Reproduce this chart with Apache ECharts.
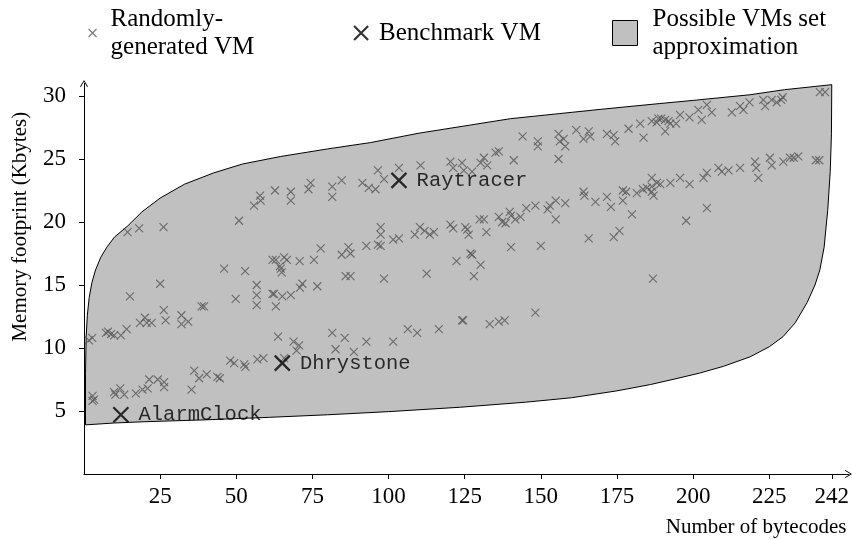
<!DOCTYPE html>
<html>
<head>
    <meta charset="UTF-8">
    <script src="https://cdn.jsdelivr.net/npm/echarts@6/dist/echarts.min.js"></script>
    <style>
        html, body { margin: 0; padding: 0; background: #fff; }
        #main { width: 852px; height: 540px; }
    </style>
</head>
<body>
<div id="main"></div>
<script type="text/javascript">
    // randomly generated VMs: [bytecodes, footprint]
    var randomVMs = [
        // upper band
        [14.3,19.2],[18.1,19.5],[26.1,19.6],[50.9,20.1],[55.8,21.3],[58,21.7],[57.8,22.1],[62.7,22.5],
        [67.9,22.4],[67.9,21.7],[74.4,23.1],[73.7,22.6],[81.5,22.8],[81.5,22],[84.6,23.3],[91.4,23.1],
        [93.5,22.7],[95.7,22.6],[96.5,24.1],[98.5,23.4],[103.4,24.3],[110.5,24.5],[120.3,24.8],[124.1,24.7],
        [121.2,24.3],[124.7,24.1],[127.4,24],[131.3,25.1],[130.2,24.7],[132.4,24.5],[135.1,25.5],[136.2,25.6],
        [141.1,24.9],[144,26.8],[149,26.4],[149,26],[155.8,27],[156.2,26.4],[157.5,26.6],[158,26],
        [155.8,25],[161.6,27.3],[164,26.6],[165.7,27.2],[166.2,26.8],[171.7,27],[173.9,26.9],[174.4,26.4],
        [178.8,27.4],[182.6,27.8],[183.7,26.7],[186.4,28],[188.6,28.2],[188,27.9],[189.5,28.2],[190.8,28.1],
        [191.9,28],[192.5,27.8],[190.8,27.2],[194.4,27.8],[195.7,28.5],[198.8,28.3],[201.7,28.9],[202.8,28.1],
        [204.5,29.3],[206.1,28.7],[212.7,28.7],[215.4,29.2],[216.5,28.9],[218.5,29.5],[223,29.7],[223.6,29.2],
        [225.8,29.7],[227.4,29.5],[228.9,29.7],[229.4,29.9],[241.6,30.3],[243.3,30.3],
        // middle band
        [1.6,10.6],[2.7,10.8],[7.2,11.2],[7.9,11.3],[8.9,11.1],[9.9,11],[12.1,11],[14,11.5],
        [18.4,12],[20,12.4],[20.6,12],[22.2,12],[26.2,13],[26.8,12.2],[32,12.6],[32,11.9],
        [34.2,12.1],[38.6,13.3],[39.4,13.3],[15.1,14.1],[25,15.1],[49.8,13.9],[56.7,15],[56.7,14.2],
        [56.7,13.4],[61.9,14.3],[63,13.3],[46,16.3],[52.9,16.1],[61.9,17],[64.3,16.5],[63,17],
        [65.7,17.2],[66.6,17],[64.6,16.3],[64.9,16],[70.8,16.9],[75.5,17],[77.7,17.9],[84.6,17.4],
        [86.8,18],[87.5,17.5],[92.7,18.1],[96.5,18.2],[97.4,19.6],[97.4,19],[97.4,18.1],[101.5,18.6],
        [103.4,18.7],[108.6,19],[110.3,19.6],[111.8,19.3],[113.5,19],[114.9,19.2],[120.3,19.8],[121.2,19.5],
        [125.8,19.4],[122.3,16.9],[126.9,17.5],[112.5,15.9],[85.9,15.7],[87.5,15.7],[98.5,15.5],[62.4,14.3],
        [65.1,14.1],[67.9,14.2],[70.9,14.8],[71.7,15.1],[76.6,14.9],
        [125.2,19.6],[126.3,19],[129.9,20.2],[131.3,20.2],[132.1,19.2],[136.2,20.4],[137.3,20],[138.4,19.9],
        [139.8,20.8],[140.2,20.5],[141.6,20.2],[143.3,20.4],[145.2,21.1],[148.2,21.3],[152.2,21],[152.9,21.3],
        [154.9,21.7],[158,21.5],[154.9,20.2],[140.2,18],[150,18.1],[164,22.4],[164.3,22.1],[167.9,21.6],
        [171.7,22],[173,21.2],[176.9,22.5],[178,22.4],[176.9,21.7],[179.9,20.6],[181.5,22.3],[183.5,22.6],
        [184.8,22.7],[186.4,23.5],[186.4,22.4],[188.1,23.1],[165.7,18.7],[173.9,18.8],[175.8,19.3],[127.4,17.4],
        [130.2,16.6],[128,15.7],[186.8,15.5],
        [186.4,22.8],[187,22.1],[189.2,23],[192.5,23.1],[195.7,23.5],[198.8,23],[203.4,23.5],[204.5,23.9],
        [208.3,24.3],[209.4,24],[211.6,24.1],[215.4,24.3],[220.3,24.8],[220.7,24.3],[221.4,23.5],[225.2,25.1],
        [225.8,24.5],[229.6,24.8],[231.8,25.1],[233,25.1],[234.5,25.2],[240.3,24.9],[241.4,24.9],[204.5,21.1],
        [197.7,20.1],
        // lower band
        [2.8,6.2],[2.8,5.8],[3.3,5.9],[9.9,6.5],[10.3,6.3],[11.9,6.8],[13.2,6.3],[17,6.4],
        [19.2,6.7],[20.9,6.8],[21.4,7.5],[24.2,7.5],[26.3,7.3],[26.3,6.9],[36.2,8.2],[37.8,7.6],
        [40.3,7.9],[35.3,6.7],[43.8,7.7],[44.6,7.6],[48,9],[49.3,8.8],[52.6,8.7],[53,8.5],
        [56.9,9.1],[58.9,9.2],[63.7,10.9],[68.8,10.5],[70.6,10.2],[69.8,9.8],[81.5,11.2],[85.6,10.8],
        [82.6,9.9],[88.6,9.7],[92.7,10.5],[101.5,10.5],[106.3,11.5],[109.4,11.2],[116.5,11.5],[124.1,12.2],
        [124.5,12.2],[133.2,11.9],[136.2,12.1],[138.1,12.2],[148.2,12.8],[65.7,9.2]
    ];

    var benchNames = ['AlarmClock', 'Dhrystone', 'Raytracer'];
    var benchX = [12.1, 65.1, 103.4];
    var benchY = [4.7, 8.8, 23.3];

    // outline of the possible VMs set (lower edge left->right, upper edge right->left)
    var setLower = [
        [0.5,3.9],[10,4.05],[20,4.15],[40,4.3],[61,4.5],[80,4.7],[100,4.95],[123.6,5.3],
        [145,5.7],[160,6.05],[175,6.6],[186,7.1],[195,7.6],[202,8.0],[210,8.55],[218.7,9.3],
        [225,10.1],[229.5,10.9],[233.5,12],[237.4,13.6],[240,15],[241.6,16.2],[243,18],[244.2,21],
        [245,24],[245.4,27],[245.5,30.9]
    ];
    var setUpper = [
        [245.5,30.9],[230,30.5],[218.7,30.1],[200,29.65],[189,29.4],[170,28.95],[156,28.6],[140,28.2],
        [127,27.7],[110,27.05],[94,26.3],[80,25.8],[64.6,25.2],[52,24.6],[42.6,23.9],[33,23.0],
        [25,21.9],[19,20.8],[14.4,19.7],[10,18.8],[7.5,18.0],[5.5,17.2],[3.8,16.2],[2.6,15.2],
        [1.7,14.0],[1.1,12.6],[0.7,10.9],[0.5,8]
    ];

    var xTicks = [25, 50, 75, 100, 125, 150, 175, 200, 225, 245.5];
    var xTickLabels = ['25', '50', '75', '100', '125', '150', '175', '200', '225', '242'];
    var yTicks = [5, 10, 15, 20, 25, 30];

    var setOutline = setLower.concat(setUpper);
    var benchData = benchX.map(function (x, i) { return [x, benchY[i], benchNames[i]]; });

    var serif = 'Liberation Serif';
    var crossPath = 'path://M0,0L10,10M10,0L0,10';
    var arrowPath = 'path://M0,10L6,0L12,10L10.8,10.6L6,2.6L1.2,10.6Z';

    var nameRandom = 'Randomly-\ngenerated VM';
    var nameBench = 'Benchmark VM';
    var nameSet = 'Possible VMs set\napproximation';

    var legendText = {fontFamily: serif, fontSize: 25, lineHeight: 28, color: '#000'};

    var myChart = echarts.init(document.getElementById('main'));
    var option = {
        animation: false,
        grid: {left: 84, right: 3, top: 83.4, bottom: 66},
        legend: [
            {
                left: 88, top: 5, padding: 0, selectedMode: false,
                itemWidth: 8, itemHeight: 8,
                data: [{name: nameRandom, icon: crossPath}],
                itemStyle: {color: 'rgba(0,0,0,0)', borderColor: '#555', borderWidth: 1.1},
                textStyle: Object.assign({padding: [0, 0, 0, 9]}, legendText)
            },
            {
                left: 353, top: 19, padding: 0, selectedMode: false,
                itemWidth: 14, itemHeight: 14,
                data: [{name: nameBench, icon: crossPath}],
                itemStyle: {color: 'rgba(0,0,0,0)', borderColor: '#000', borderWidth: 2.2},
                textStyle: Object.assign({padding: [0, 0, 0, 6]}, legendText)
            },
            {
                left: 612, top: 5, padding: 0, selectedMode: false,
                itemWidth: 25, itemHeight: 25,
                data: [{name: nameSet, icon: 'rect'}],
                itemStyle: {color: '#c0c0c0', borderColor: '#000', borderWidth: 1},
                textStyle: Object.assign({padding: [0, 0, 0, 10]}, legendText)
            }
        ],
        xAxis: {
            type: 'value',
            min: 0,
            max: 251,
            name: 'Number of bytecodes',
            nameLocation: 'end',
            nameGap: -2,
            nameTextStyle: {
                fontFamily: serif, fontSize: 21, color: '#000',
                align: 'right', verticalAlign: 'top', padding: [43, 0, 0, 0]
            },
            axisLine: {
                onZero: false,
                symbol: ['none', arrowPath],
                symbolSize: [9, 7],
                lineStyle: {color: '#000', width: 1}
            },
            axisTick: {show: true, inside: false, length: 5, customValues: xTicks, lineStyle: {color: '#000'}},
            axisLabel: {
                customValues: xTicks,
                margin: 11,
                fontFamily: serif, fontSize: 23, color: '#000',
                formatter: function (v) { return xTickLabels[xTicks.indexOf(v)]; }
            },
            splitLine: {show: false}
        },
        yAxis: {
            type: 'value',
            min: 0,
            max: 31,
            name: 'Memory footprint (Kbytes)',
            nameLocation: 'middle',
            nameRotate: 90,
            nameGap: 53,
            nameTextStyle: {fontFamily: serif, fontSize: 21, color: '#000', padding: [0, 0, 0, 104]},
            axisLine: {
                show: true,
                onZero: false,
                symbol: ['none', arrowPath],
                symbolSize: [9, 7],
                lineStyle: {color: '#000', width: 1}
            },
            axisTick: {show: true, inside: false, length: 5, customValues: yTicks, lineStyle: {color: '#000'}},
            axisLabel: {customValues: yTicks, margin: 18, fontFamily: serif, fontSize: 23, color: '#000'},
            splitLine: {show: false}
        },
        series: [
            {
                name: nameSet,
                type: 'custom',
                z: 1,
                silent: true,
                itemStyle: {color: '#c0c0c0'},
                data: setOutline,
                renderItem: function (params, api) {
                    if (params.dataIndex !== 0) {
                        return null;
                    }
                    var pts = setOutline.map(function (p) { return api.coord(p); });
                    return {
                        type: 'polygon',
                        shape: {points: pts},
                        style: {fill: '#c0c0c0', stroke: '#000', lineWidth: 1}
                    };
                }
            },
            {
                name: nameRandom,
                type: 'scatter',
                z: 2,
                silent: true,
                symbol: crossPath,
                symbolSize: 8,
                itemStyle: {color: 'rgba(0,0,0,0)', borderColor: '#555', borderWidth: 1.1},
                data: randomVMs
            },
            {
                name: nameBench,
                type: 'scatter',
                z: 3,
                silent: true,
                symbol: crossPath,
                symbolSize: 15,
                itemStyle: {color: 'rgba(0,0,0,0)', borderColor: '#000', borderWidth: 2.3},
                label: {
                    show: true,
                    position: 'right',
                    distance: 9,
                    fontFamily: 'Liberation Mono',
                    fontSize: 20.5,
                    color: '#000',
                    formatter: function (p) { return p.data[2]; }
                },
                data: benchData
            }
        ]
    };
    myChart.setOption(option);
</script>
</body>
</html>
